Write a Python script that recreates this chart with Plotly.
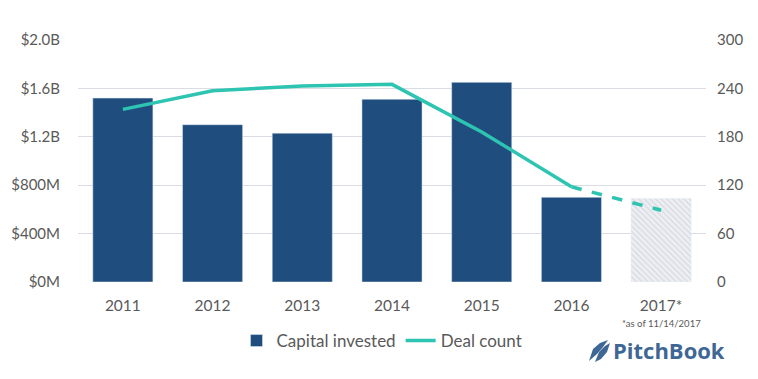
import plotly.graph_objects as go

years = ["2011", "2012", "2013", "2014", "2015", "2016", "2017*"]
capital_b = [1.52, 1.30, 1.23, 1.51, 1.65, 0.70, 0.69]  # $B
deal_count = [214, 237, 243, 245, 186, 118, 89]

left_ticks = [0, 0.4, 0.8, 1.2, 1.6, 2.0]
left_labels = ["$0M", "$400M", "$800M", "$1.2B", "$1.6B", "$2.0B"]
right_ticks = [0, 60, 120, 180, 240, 300]

BAR = "#1F4E7E"
TEAL = "#2EC4B2"
GRID = "#D9DDE3"
TXT = "#595959"
FONT = "Lato"

OFF = 8  # page body margin
W, H = 758, 379
L, R, T, B = 70, 60, 32, 105
PW, PH = W - L - R, H - T - B


def px(x):  # page pixel -> paper
    return (x - OFF - L) / PW


def py(y):
    return (H - B - (y - OFF)) / PH


fig = go.Figure()

fig.add_trace(go.Bar(
    x=years[:-1], y=capital_b[:-1], name="Capital invested",
    marker=dict(color=BAR), width=0.67,
))
fig.add_trace(go.Bar(
    x=years[-1:], y=capital_b[-1:], name="Capital invested", showlegend=False,
    marker=dict(color="#EEF0F3", pattern=dict(shape="\\", fgcolor="#C4CAD3", bgcolor="#EEF0F3", size=4, solidity=0.4)),
    width=0.67,
))
fig.add_trace(go.Scatter(
    x=years[:-1], y=deal_count[:-1], name="Deal count", yaxis="y2",
    mode="lines", line=dict(color=TEAL, width=3.5),
))
fig.add_trace(go.Scatter(
    x=years[-2:], y=deal_count[-2:], name="Deal count", yaxis="y2", showlegend=False,
    mode="lines", line=dict(color=TEAL, width=3.5, dash="dash"),
))

fig.update_layout(
    width=W, height=H,
    margin=dict(l=L, r=R, t=T, b=B, autoexpand=False),
    paper_bgcolor="white", plot_bgcolor="white",
    font=dict(family=FONT, color=TXT, size=15),
    barmode="overlay",
    xaxis=dict(type="category", categoryorder="array", categoryarray=years,
               showline=False, ticks="", automargin=False, ticklabelstandoff=12,
               tickfont=dict(size=15.5, color=TXT)),
    yaxis=dict(range=[0, 2.0], tickvals=left_ticks, ticktext=left_labels,
               showgrid=True, gridcolor=GRID, gridwidth=1, zeroline=False, automargin=False,
               ticks="", ticklabelstandoff=17, tickfont=dict(size=15, color=TXT)),
    yaxis2=dict(range=[0, 300], tickvals=right_ticks, overlaying="y", side="right",
                showgrid=False, zeroline=False, ticks="", ticklabelstandoff=10, automargin=False,
                tickfont=dict(size=15, color=TXT)),
    legend=dict(orientation="h", x=px(382), xanchor="center", y=py(341), yanchor="middle",
                font=dict(size=17, color=TXT), itemwidth=30, tracegroupgap=0),
    bargap=0.33,
)

fig.add_annotation(text="*as of 11/14/2017", xref="x", x="2017*", yref="paper", y=py(323),
                   showarrow=False, xanchor="center", yanchor="middle",
                   font=dict(size=9.5, color=TXT, family=FONT))
fig.add_annotation(text="<b>PitchBook</b>", xref="paper", x=px(727), yref="paper", y=py(350),
                   showarrow=False, xanchor="right", yanchor="middle",
                   font=dict(size=22, color="#3E6796", family="Open Sans"))

# logo sail icon
pts1 = [(589, 361), (593, 349), (600, 343), (608, 340), (603, 347), (597, 354)]
pts2 = [(595, 362), (599, 352), (605, 346), (610, 343), (607, 352), (601, 359)]
for pts in (pts1, pts2):
    path = "M " + " L ".join(f"{px(a):.5f},{py(b):.5f}" for a, b in pts) + " Z"
    fig.add_shape(type="path", path=path, xref="paper", yref="paper",
                  fillcolor="#3E6796", line=dict(width=0))

fig.write_html("out.html")
